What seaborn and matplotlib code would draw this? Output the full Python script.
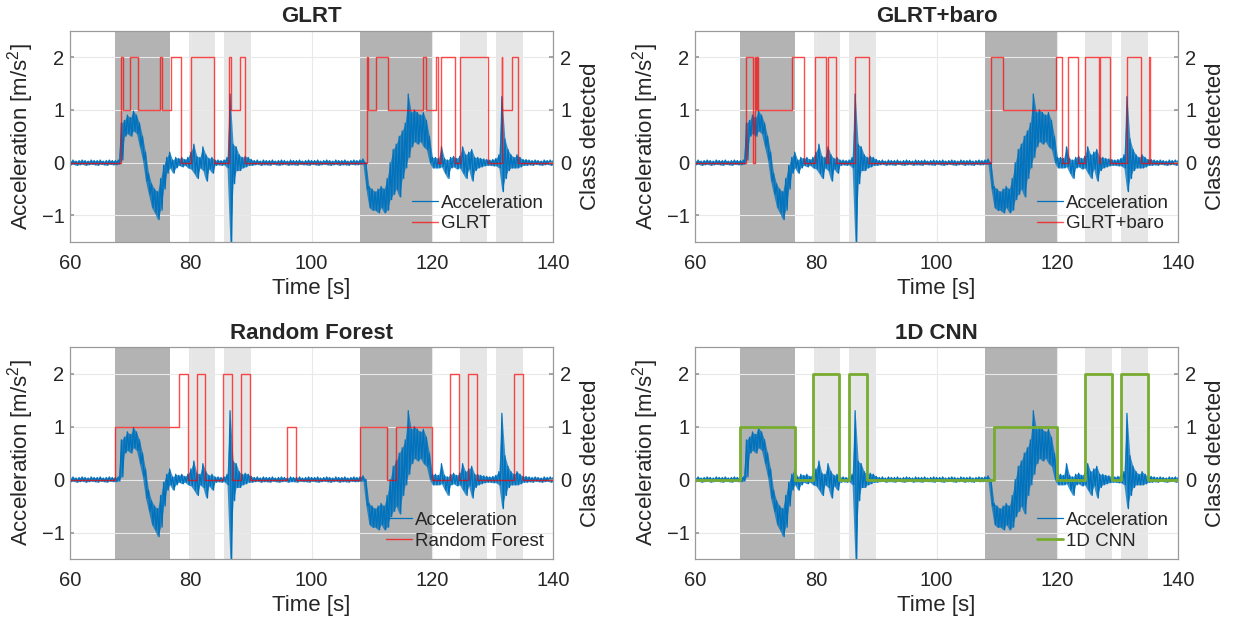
import numpy as np
import pandas as pd
import seaborn as sns
import matplotlib.pyplot as plt

# acceleration envelope, one hi/lo pair every 0.5 s from 60 s to 140 s
acc_hi = [
    # 60.0 - 67.5
    0.04, 0.05, 0.03, 0.04, 0.05, 0.04, 0.03, 0.05, 0.04, 0.04, 0.05, 0.03, 0.04, 0.05, 0.04, 0.04,
    # 68.0 - 90.0
    0.05, 0.75, 0.8, 0.9, 0.85, 0.98, 0.9, 0.75, 0.5, 0.2,
    -0.2, -0.4, -0.5, -0.55, -0.3, -0.05, 0.1, 0.2, 0.05, 0.1,
    0.08, 0.1, 0.06, 0.1, 0.2, 0.35, 0.12, 0.1, 0.3, 0.15,
    0.08, 0.1, 0.05, 0.05, 0.04, 0.05, 0.1, 1.3, 0.35, 0.3,
    0.15, 0.1, 0.12, 0.1, 0.06,
    # 90.5 - 108.0
    0.04, 0.05, 0.03, 0.05, 0.04, 0.04, 0.05, 0.03, 0.04, 0.05,
    0.04, 0.03, 0.05, 0.04, 0.04, 0.05, 0.03, 0.04, 0.05, 0.04,
    0.04, 0.05, 0.03, 0.04, 0.05, 0.04, 0.03, 0.05, 0.04, 0.04,
    0.05, 0.03, 0.04, 0.05, 0.04, 0.05,
    # 108.5 - 135.0
    0.07, 0.0, -0.45, -0.5, -0.55, -0.5, -0.45, -0.5, -0.3, 0.0,
    0.25, 0.35, 0.5, 0.6, 0.75, 1.3, 0.95, 1.0, 0.95, 0.9,
    0.95, 0.8, 0.5, 0.1, 0.1, 0.08, 0.3, 0.08, 0.05, 0.1,
    0.12, 0.08, 0.12, 0.3, 0.15, 0.2, 0.25, 0.1, 0.1, 0.08,
    0.07, 0.06, 0.05, 0.06, 0.08, 0.15, 1.25, 0.45, 0.25, 0.15,
    0.1, 0.15, 0.1, 0.06,
    # 135.5 - 140.0
    0.06, 0.05, 0.04, 0.05, 0.04, 0.03, 0.05, 0.04, 0.05, 0.04,
]
acc_lo = [
    -0.04, -0.03, -0.05, -0.04, -0.03, -0.05, -0.04, -0.03, -0.04, -0.05, -0.03, -0.04, -0.05, -0.03, -0.04, -0.04,
    -0.03, 0.05, 0.5, 0.55, 0.5, 0.6, 0.55, 0.3, 0.05, -0.35,
    -0.6, -0.85, -0.95, -1.08, -0.9, -0.5, -0.2, -0.1, -0.2, -0.1,
    -0.05, -0.08, -0.05, -0.1, -0.12, -0.2, -0.3, -0.1, -0.15, -0.35,
    -0.12, -0.2, -0.05, -0.04, -0.05, -0.04, -0.1, -1.6, -0.4, -0.15,
    -0.15, -0.1, -0.08, -0.05, -0.05,
    -0.04, -0.03, -0.05, -0.04, -0.04, -0.05, -0.03, -0.04, -0.05, -0.04,
    -0.03, -0.05, -0.04, -0.04, -0.05, -0.03, -0.04, -0.04, -0.05, -0.03,
    -0.04, -0.05, -0.04, -0.03, -0.04, -0.05, -0.04, -0.03, -0.05, -0.04,
    -0.04, -0.05, -0.03, -0.04, -0.04, -0.03,
    -0.03, -0.5, -0.85, -0.9, -0.9, -0.95, -0.85, -0.95, -0.9, -0.7,
    -0.6, -0.5, -0.65, -0.3, -0.1, 0.1, 0.3, 0.4, 0.35, 0.4,
    0.3, 0.25, 0.0, -0.1, -0.1, -0.1, -0.08, -0.2, -0.3, -0.1,
    -0.08, -0.12, -0.1, -0.2, -0.3, -0.12, -0.35, -0.15, -0.1, -0.08,
    -0.06, -0.05, -0.05, -0.06, -0.06, -0.1, -0.55, -0.3, -0.15, -0.1,
    -0.1, -0.1, -0.08, -0.05,
    -0.05, -0.04, -0.05, -0.03, -0.04, -0.05, -0.04, -0.03, -0.05, -0.04,
]

# true activity intervals (shaded)
dark_spans = [(67.5, 76.5), (108.0, 120.0)]
light_spans = [(79.7, 84.0), (85.5, 90.0), (124.5, 129.0), (130.5, 135.0)]

# detected class, step changes (time, class)
glrt_t = [60, 68.5, 68.75, 69.9, 71.3, 74.9, 75.2, 76.8, 78.45, 79.95, 83.85, 86.4, 86.6, 88.1, 88.95,
          109.1, 109.3, 110.6, 112.6, 118.5, 118.95, 120.55, 120.85, 121.45, 123.8, 124.65, 129.15,
          131.45, 131.6, 133.15, 134.1, 140]
glrt_c = [0, 2, 1, 2, 1, 2, 1, 2, 0, 2, 0, 2, 1, 2, 0,
          2, 1, 2, 1, 2, 1, 2, 0, 2, 0, 2, 0,
          2, 1, 2, 0, 0]

baro_t = [60, 68.45, 69.65, 69.85, 70.1, 70.2, 70.4, 76.0, 78.1, 79.8, 81.65, 81.95, 83.4, 86.4, 88.75,
          109.05, 110.9, 119.8, 120.75, 121.7, 123.45, 124.5, 126.8, 127.05, 128.65, 131.55, 133.8,
          135.2, 135.3, 140]
baro_c = [0, 2, 0, 2, 1, 2, 1, 2, 0, 2, 0, 2, 0, 2, 0,
          2, 1, 2, 0, 2, 0, 2, 0, 2, 0, 2, 0,
          2, 0, 0]

rf_t = [60, 67.45, 78.0, 79.55, 80.95, 82.35, 85.4, 86.85, 88.35, 89.85, 95.9, 97.45,
        108.0, 112.55, 114.0, 119.9, 122.85, 124.4, 125.9, 127.4, 133.45, 135.0, 140]
rf_c = [0, 1, 2, 0, 2, 0, 2, 0, 2, 0, 1, 0,
        1, 0, 1, 0, 2, 0, 2, 0, 2, 0, 0]

cnn_t = [60, 67.5, 76.6, 79.6, 83.9, 85.5, 88.5, 109.5, 119.95, 124.5, 129.0, 130.55, 135.0, 140]
cnn_c = [0, 1, 0, 2, 0, 2, 0, 1, 0, 2, 0, 2, 0, 0]

panels = [
    ("GLRT", glrt_t, glrt_c, "#ff0000", 1.0, 0.7),
    ("GLRT+baro", baro_t, baro_c, "#ff0000", 1.0, 0.7),
    ("Random Forest", rf_t, rf_c, "#ff0000", 1.0, 0.7),
    ("1D CNN", cnn_t, cnn_c, "#77ac30", 2.0, 1.0),
]
positions = [
    [0.0565, 0.613, 0.39, 0.338],
    [0.561, 0.613, 0.39, 0.338],
    [0.0565, 0.1056, 0.39, 0.339],
    [0.561, 0.1056, 0.39, 0.339],
]

sns.set_theme(style="white")
plt.rcParams["font.family"] = ["Liberation Sans", "DejaVu Sans"]
plt.rcParams["mathtext.fontset"] = "custom"
plt.rcParams["mathtext.rm"] = "Liberation Sans"

# zig-zag between the envelope values to draw the noisy signal
t_acc = 60 + 0.5 * np.arange(len(acc_hi))
acc = pd.DataFrame({
    "t": np.column_stack([t_acc, t_acc + 0.25]).ravel(),
    "a": np.column_stack([acc_hi, acc_lo]).ravel(),
})
blue = "#0072bd"
edge = "#9a9a9a"
fig = plt.figure(figsize=(12.39, 6.25), dpi=100)

for (title, ct, cc, col, lw, alpha), pos in zip(panels, positions):
    ax = fig.add_axes(pos)
    for a, b in dark_spans:
        ax.axvspan(a, b, color="#b3b3b3", lw=0, zorder=0)
    for a, b in light_spans:
        ax.axvspan(a, b, color="#e6e6e6", lw=0, zorder=0)
    ax.grid(True, color="#e9e9e9", lw=0.8)
    ax.set_axisbelow(True)

    # band of the envelope, then the zig-zag on top for texture
    ax.fill_between(t_acc, acc_lo, acc_hi, color=blue, alpha=0.75, lw=0, zorder=2)
    sns.lineplot(data=acc, x="t", y="a", ax=ax, color=blue, lw=0.9,
                 sort=False, estimator=None, legend=False, label="Acceleration", zorder=3)
    if ax.get_legend():
        ax.get_legend().remove()
    h1 = ax.lines[-1]

    ax.set_xlim(60, 140)
    ax.set_ylim(-1.5, 2.5)
    ax.set_xticks([60, 80, 100, 120, 140])
    ax.set_yticks([-1, 0, 1, 2])
    ax.set_xlabel("Time [s]", fontsize=16, labelpad=3)
    ax.set_ylabel(r"Acceleration [m/s$^{\mathregular{2}}$]", fontsize=16, labelpad=4)
    ax.set_title(title, fontsize=16, fontweight="bold", pad=6)
    ax.tick_params(axis="x", direction="in", length=3, color=edge, labelsize=14.5, pad=9,
                   labelcolor="#262626")
    ax.tick_params(axis="y", direction="in", length=3, color=edge, labelsize=14.5, pad=4,
                   labelcolor="#262626")

    ax2 = ax.twinx()
    sns.lineplot(x=ct, y=cc, ax=ax2, color=col, lw=lw, alpha=alpha, drawstyle="steps-post",
                 sort=False, estimator=None, legend=False, label=title)
    if ax2.get_legend():
        ax2.get_legend().remove()
    h2 = ax2.lines[-1]
    ax2.set_ylim(-1.5, 2.5)
    ax2.set_yticks([0, 1, 2])
    ax2.set_ylabel("Class detected", fontsize=16, labelpad=6)
    ax2.tick_params(axis="y", direction="in", length=3, color=edge, labelsize=14.5, pad=5,
                    labelcolor="#262626")
    for a in (ax, ax2):
        for s in a.spines.values():
            s.set_color(edge)
            s.set_linewidth(0.8)

    ax2.legend([h1, h2], ["Acceleration", title], loc="lower right", frameon=False,
               fontsize=13.5, handlelength=1.4, handletextpad=0.15, labelspacing=0.2,
               borderaxespad=0.3, borderpad=0.2)

fig.savefig("out.png", dpi=100)
